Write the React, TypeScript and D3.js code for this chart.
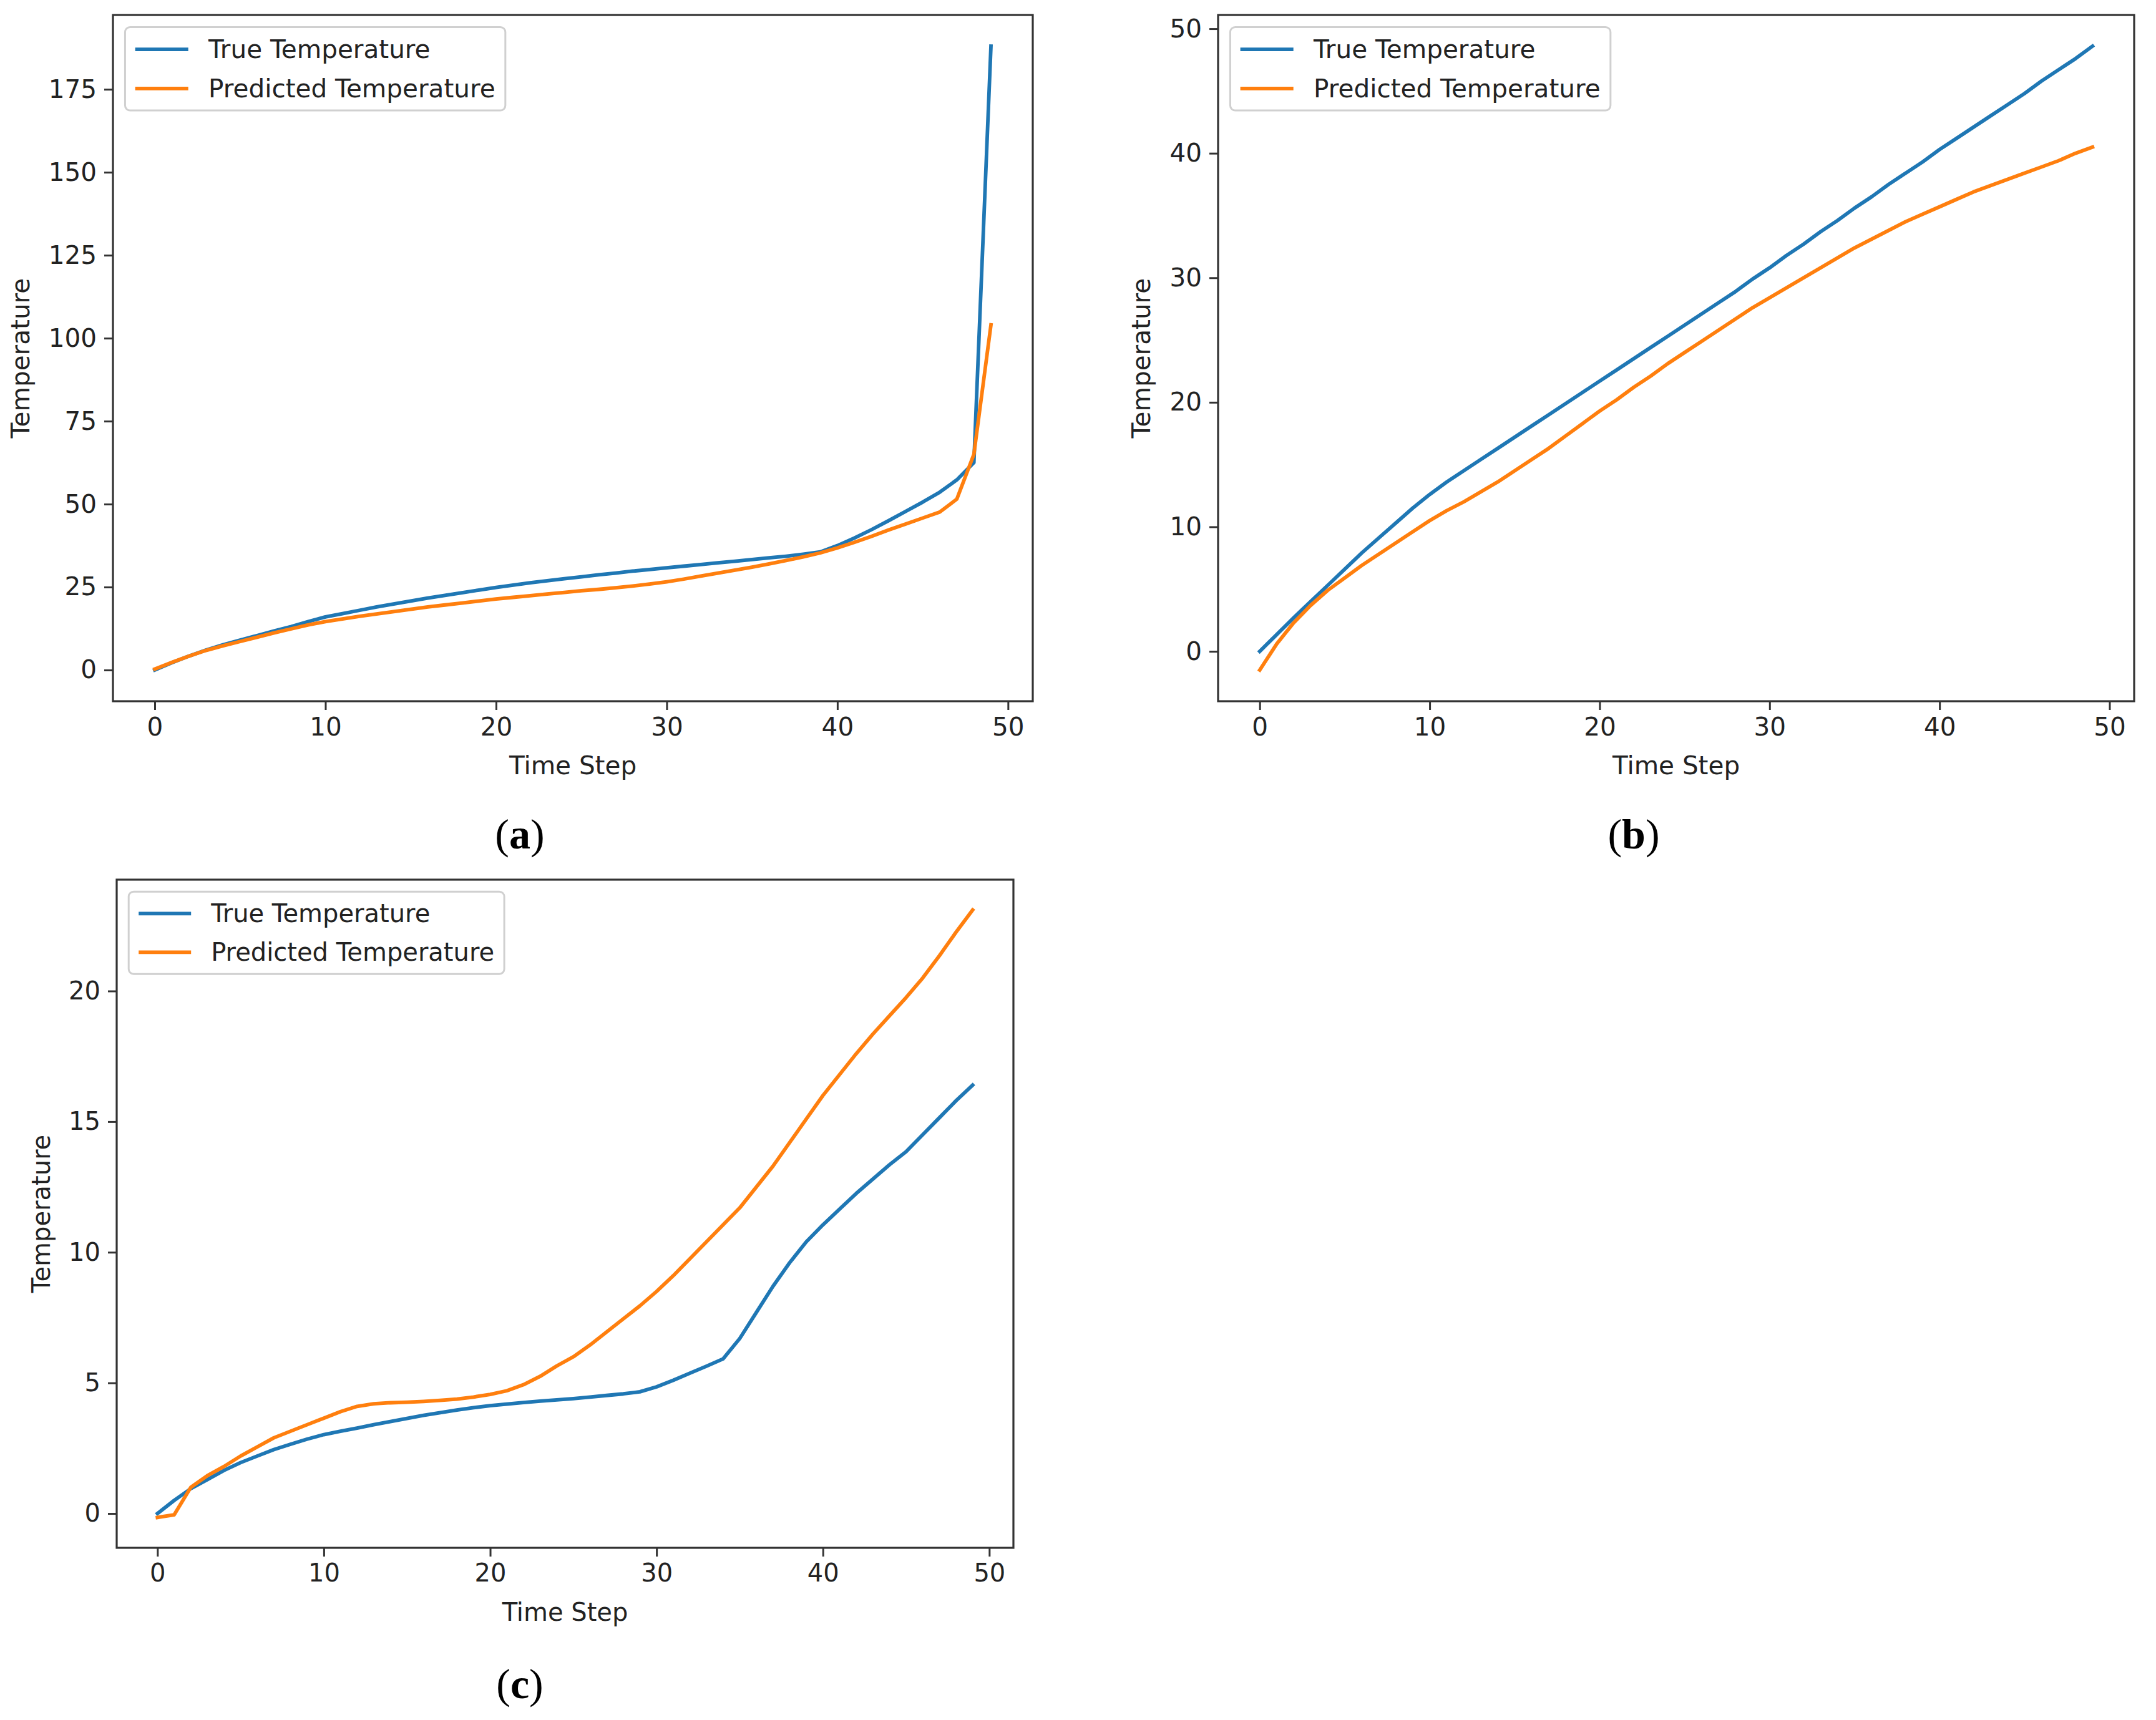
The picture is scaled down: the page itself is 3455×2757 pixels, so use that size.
import React, { useEffect, useRef } from 'react';
import * as d3 from 'd3';

// time steps 0..49 are the array index
const trueA = [0, 2.2, 4.2, 6.0, 7.6, 9.0, 10.4, 11.8, 13.1, 14.6, 16.0, 17.0, 18.0, 19.0, 19.9, 20.8, 21.7, 22.5, 23.3, 24.1,
  24.9, 25.6, 26.3, 26.9, 27.5, 28.1, 28.7, 29.2, 29.8, 30.3, 30.8, 31.3, 31.8, 32.3, 32.8, 33.3, 33.8, 34.3, 34.9, 35.6,
  37.5, 39.8, 42.3, 45.0, 47.8, 50.6, 53.6, 57.3, 62.5, 188];
const predA = [0.3, 2.3, 4.2, 5.9, 7.3, 8.6, 9.9, 11.2, 12.4, 13.6, 14.6, 15.4, 16.2, 16.9, 17.6, 18.3, 19.0, 19.6, 20.2, 20.8,
  21.4, 21.9, 22.4, 22.9, 23.4, 23.9, 24.3, 24.8, 25.3, 25.9, 26.6, 27.4, 28.3, 29.2, 30.1, 31.0, 32.0, 33.0, 34.1, 35.3,
  36.8, 38.5, 40.3, 42.2, 44.0, 45.8, 47.6, 51.5, 65.0, 104];

const trueB = [0, 1.35, 2.7, 4.0, 5.3, 6.6, 7.9, 9.1, 10.3, 11.5, 12.6, 13.6, 14.5, 15.4, 16.3, 17.2, 18.1, 19.0, 19.9, 20.8,
  21.7, 22.6, 23.5, 24.4, 25.3, 26.2, 27.1, 28.0, 28.9, 29.9, 30.8, 31.8, 32.7, 33.7, 34.6, 35.6, 36.5, 37.5, 38.4, 39.3,
  40.3, 41.2, 42.1, 43.0, 43.9, 44.8, 45.8, 46.7, 47.6, 48.6];
const predB = [-1.5, 0.6, 2.3, 3.7, 4.9, 5.9, 6.9, 7.8, 8.7, 9.6, 10.5, 11.3, 12.0, 12.8, 13.6, 14.5, 15.4, 16.3, 17.3, 18.3,
  19.3, 20.2, 21.2, 22.1, 23.1, 24.0, 24.9, 25.8, 26.7, 27.6, 28.4, 29.2, 30.0, 30.8, 31.6, 32.4, 33.1, 33.8, 34.5, 35.1,
  35.7, 36.3, 36.9, 37.4, 37.9, 38.4, 38.9, 39.4, 40.0, 40.5];

const trueC = [0, 0.5, 0.95, 1.3, 1.65, 1.95, 2.2, 2.45, 2.65, 2.85, 3.02, 3.15, 3.27, 3.4, 3.52, 3.64, 3.76, 3.86, 3.96, 4.05,
  4.13, 4.19, 4.25, 4.3, 4.35, 4.4, 4.46, 4.52, 4.58, 4.66, 4.85, 5.1, 5.37, 5.64, 5.92, 6.7, 7.7, 8.7, 9.6, 10.4,
  11.05, 11.65, 12.25, 12.8, 13.35, 13.85, 14.5, 15.15, 15.8, 16.4];
const predC = [-0.15, -0.05, 1.0, 1.45, 1.8, 2.2, 2.55, 2.9, 3.15, 3.4, 3.65, 3.9, 4.1, 4.2, 4.24, 4.26, 4.29, 4.33, 4.38, 4.46,
  4.56, 4.7, 4.93, 5.25, 5.65, 6.0, 6.45, 6.95, 7.45, 7.95, 8.5, 9.1, 9.75, 10.4, 11.05, 11.7, 12.5, 13.3, 14.2, 15.1,
  16.0, 16.8, 17.6, 18.35, 19.05, 19.75, 20.5, 21.35, 22.25, 23.1];

const xTicks = [0, 10, 20, 30, 40, 50];
const yTicksA = [0, 25, 50, 75, 100, 125, 150, 175];
const yTicksB = [0, 10, 20, 30, 40, 50];
const yTicksC = [0, 5, 10, 15, 20];

const seriesNames = ['True Temperature', 'Predicted Temperature'];
const seriesColors = ['#1f77b4', '#ff7f0e'];

const panels = [
  { id: 'a', series: [trueA, predA], yTicks: yTicksA, box: { left: 181, top: 24, right: 1655, bottom: 1124 }, fs: 40.5, ylabOff: 148, caption: [833, 1337] },
  { id: 'b', series: [trueB, predB], yTicks: yTicksB, box: { left: 1952, top: 24, right: 3420, bottom: 1124 }, fs: 40.5, ylabOff: 123, caption: [2618, 1337] },
  { id: 'c', series: [trueC, predC], yTicks: yTicksC, box: { left: 187, top: 1410, right: 1624, bottom: 2481 }, fs: 40, ylabOff: 121, caption: [833, 2699] },
];

const W = 3455;
const H = 2757;
const INK = '#222';
const SPINE = '#333';
const SANS = "'DejaVu Sans', sans-serif";

function App() {
  const svgRef = useRef<SVGSVGElement>(null);

  useEffect(() => {
    const svg = d3.select(svgRef.current);
    svg.selectAll('*').remove();
    svg.append('rect').attr('width', W).attr('height', H).attr('fill', '#fff');

    panels.forEach((p) => {
      const { left, top, right, bottom } = p.box;
      const fs = p.fs;
      const all = p.series.flat();
      const n = p.series[0].length;

      // matplotlib-style 5% margins around the data
      const xPad = (n - 1) * 0.05;
      const x = d3.scaleLinear().domain([-xPad, n - 1 + xPad]).range([left, right]);
      const [lo, hi] = d3.extent(all) as [number, number];
      const yPad = (hi - lo) * 0.05;
      const y = d3.scaleLinear().domain([lo - yPad, hi + yPad]).range([bottom, top]);

      const g = svg.append('g');

      const line = d3.line<number>().x((_, i) => x(i)).y((d) => y(d));
      p.series.forEach((s, k) => {
        g.append('path')
          .datum(s)
          .attr('d', line)
          .attr('fill', 'none')
          .attr('stroke', seriesColors[k])
          .attr('stroke-width', 5.8)
          .attr('stroke-linejoin', 'round')
          .attr('stroke-linecap', 'square');
      });

      // axes
      const tickLen = 14;
      const xAxis = d3.axisBottom(x).tickValues(xTicks).tickSize(tickLen).tickPadding(12).tickFormat(d3.format('d'));
      const yAxis = d3.axisLeft(y).tickValues(p.yTicks).tickSize(tickLen).tickPadding(12).tickFormat(d3.format('d'));

      const gx = g.append('g').attr('transform', `translate(0,${bottom})`).call(xAxis);
      const gy = g.append('g').attr('transform', `translate(${left},0)`).call(yAxis);
      [gx, gy].forEach((ax) => {
        ax.select('.domain').remove();
        ax.selectAll('line').attr('stroke', SPINE).attr('stroke-width', 3);
        ax.selectAll('text').attr('fill', INK).style('font-family', SANS).style('font-size', `${fs}px`);
      });

      g.append('rect')
        .attr('x', left).attr('y', top)
        .attr('width', right - left).attr('height', bottom - top)
        .attr('fill', 'none').attr('stroke', SPINE).attr('stroke-width', 3.2);

      g.append('text')
        .attr('x', (left + right) / 2).attr('y', bottom + 103)
        .attr('text-anchor', 'middle').attr('dominant-baseline', 'central')
        .attr('fill', INK).style('font-family', SANS).style('font-size', `${fs}px`)
        .text('Time Step');

      g.append('text')
        .attr('transform', `translate(${left - p.ylabOff},${(top + bottom) / 2}) rotate(-90)`)
        .attr('text-anchor', 'middle').attr('dominant-baseline', 'central')
        .attr('fill', INK).style('font-family', SANS).style('font-size', `${fs}px`)
        .text('Temperature');

      // legend, upper left
      const lx = left + 0.48 * fs;
      const ly = top + 0.48 * fs;
      const leg = g.append('g');
      const frame = leg.append('rect')
        .attr('x', lx).attr('y', ly).attr('rx', 8).attr('ry', 8)
        .attr('height', 3.3 * fs)
        .attr('fill', 'rgba(255,255,255,0.8)').attr('stroke', '#d0d0d0').attr('stroke-width', 3);
      let maxW = 0;
      seriesNames.forEach((name, k) => {
        const cy = ly + (0.88 + 1.55 * k) * fs;
        leg.append('line')
          .attr('x1', lx + 0.4 * fs).attr('x2', lx + 2.5 * fs)
          .attr('y1', cy).attr('y2', cy)
          .attr('stroke', seriesColors[k]).attr('stroke-width', 5.8);
        const t = leg.append('text')
          .attr('x', lx + 3.3 * fs).attr('y', cy)
          .attr('dominant-baseline', 'central')
          .attr('fill', INK).style('font-family', SANS).style('font-size', `${fs}px`)
          .text(name);
        const node = t.node() as SVGTextElement;
        maxW = Math.max(maxW, node.getComputedTextLength());
      });
      frame.attr('width', 3.3 * fs + maxW + 0.4 * fs);

      // sub-figure caption
      const cap = svg.append('text')
        .attr('x', p.caption[0]).attr('y', p.caption[1])
        .attr('text-anchor', 'middle').attr('dominant-baseline', 'central')
        .attr('fill', '#000').style('font-family', "'Liberation Serif', serif").style('font-size', '68px');
      cap.append('tspan').text('(');
      cap.append('tspan').attr('font-weight', 'bold').text(p.id);
      cap.append('tspan').text(')');
    });

    return () => {
      svg.selectAll('*').remove();
    };
  }, []);

  return (
    <svg ref={svgRef} width={W} height={H} style={{ position: 'absolute', left: 0, top: 0 }} />
  );
}

export default App;
